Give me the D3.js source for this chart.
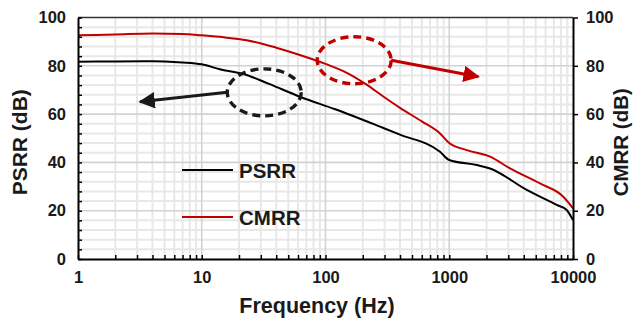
<!DOCTYPE html>
<html>
<head>
<meta charset="utf-8">
<script src="https://cdn.jsdelivr.net/npm/d3@7"></script>
<style>
  body { margin: 0; background: #fff; }
  text { font-family: "Liberation Sans", Arial, sans-serif; font-weight: bold; fill: #1a1a1a; }
</style>
</head>
<body>
<svg id="chart" width="633" height="322"></svg>
<script>
// frequencies (Hz) and values (dB)
const psrrFreq = [1, 2, 4, 5, 7, 10, 14, 21.7, 35, 62, 120, 276, 400, 842, 1000, 1667, 2135, 4226, 7386, 8890, 10000];
const psrrVals = [81.7, 81.8, 81.9, 81.8, 81.4, 80.6, 78.6, 76.6, 72.5, 67.2, 62, 54.8, 51.5, 44.4, 41, 38.9, 37.5, 28.6, 22.4, 20.3, 16.1];

const cmrrFreq = [1, 2, 4, 7, 10, 15, 23, 40, 62, 100, 150, 215, 293, 400, 600, 842, 1000, 1384, 2135, 3097, 5408, 8350, 10000];
const cmrrVals = [92.6, 93.0, 93.4, 93.2, 92.6, 91.8, 90.6, 87.5, 84.5, 80.8, 77, 72.2, 67.3, 62.6, 57, 52, 48, 45.1, 42.4, 37.5, 31.3, 25.8, 21.0];

const xTicks = [1, 10, 100, 1000, 10000];
const yTicks = [0, 20, 40, 60, 80, 100];

const series = [
  { name: "PSRR", color: "#000000", f: psrrFreq, v: psrrVals },
  { name: "CMRR", color: "#c00000", f: cmrrFreq, v: cmrrVals }
];

const margin = { top: 17.5, right: 60, bottom: 63, left: 78 };
const W = 633, H = 322;
const svg = d3.select("#chart");

const x = d3.scaleLog().domain([1, 10000]).range([margin.left, W - margin.right]);
const y = d3.scaleLinear().domain([0, 100]).range([H - margin.bottom, margin.top]);

// minor grid
const minorX = [];
for (let d = 1; d < 10000; d *= 10) for (let k = 2; k <= 9; k++) minorX.push(d * k);
const minorY = d3.range(0, 101, 4).filter(v => v % 20 !== 0);

const grid = svg.append("g");
grid.selectAll(".mx").data(minorX).join("line")
  .attr("x1", x).attr("x2", x).attr("y1", y(0)).attr("y2", y(100))
  .attr("stroke", "#e8e8e8").attr("stroke-width", 2);
grid.selectAll(".my").data(minorY).join("line")
  .attr("x1", x(1)).attr("x2", x(10000)).attr("y1", y).attr("y2", y)
  .attr("stroke", "#e8e8e8").attr("stroke-width", 2);
grid.selectAll(".Mx").data(xTicks.slice(1, -1)).join("line")
  .attr("x1", x).attr("x2", x).attr("y1", y(0)).attr("y2", y(100))
  .attr("stroke", "#d2d2d2").attr("stroke-width", 1.6);
grid.selectAll(".My").data(yTicks.slice(1, -1)).join("line")
  .attr("x1", x(1)).attr("x2", x(10000)).attr("y1", y).attr("y2", y)
  .attr("stroke", "#d2d2d2").attr("stroke-width", 1.6);

// top border
svg.append("line")
  .attr("x1", x(1)).attr("x2", x(10000)).attr("y1", y(100)).attr("y2", y(100))
  .attr("stroke", "#333").attr("stroke-width", 1.5);

// curves
const line = d3.line().curve(d3.curveMonotoneX);
series.forEach(s => {
  svg.append("path")
    .attr("d", line(s.f.map((f, i) => [x(f), y(s.v[i])])))
    .attr("fill", "none").attr("stroke", s.color).attr("stroke-width", 2);
});

// axes
const styleAxis = g => {
  g.select(".domain").attr("stroke", "#000").attr("stroke-width", 2);
  g.selectAll(".tick line").attr("stroke", "#000").attr("stroke-width", 1.5);
  g.selectAll(".tick text").style("font-size", "16.5px").attr("fill", "#1a1a1a");
};

const xAll = xTicks.concat(minorX).sort((a, b) => a - b);
svg.append("g")
  .attr("transform", `translate(0,${y(0)})`)
  .call(d3.axisBottom(x).tickValues(xAll).tickSizeInner(-4).tickSizeOuter(0)
    .tickPadding(12).tickFormat(d => xTicks.includes(d) ? d : ""))
  .call(styleAxis);

svg.append("g")
  .attr("transform", `translate(${x(1)},0)`)
  .call(d3.axisLeft(y).tickValues(yTicks.concat(minorY)).tickSizeInner(-4).tickSizeOuter(0)
    .tickPadding(12).tickFormat(d => yTicks.includes(d) ? d : ""))
  .call(styleAxis);

svg.append("g")
  .attr("transform", `translate(${x(10000)},0)`)
  .call(d3.axisRight(y).tickValues(yTicks).tickSizeInner(5).tickSizeOuter(0).tickPadding(8))
  .call(styleAxis);

// titles
svg.append("text").attr("x", 317).attr("y", 313).attr("text-anchor", "middle")
  .style("font-size", "21.5px").text("Frequency (Hz)");
svg.append("text").attr("transform", `translate(27,${(y(0) + y(100)) / 2 + 4}) rotate(-90)`)
  .attr("text-anchor", "middle").style("font-size", "21px").text("PSRR (dB)");
svg.append("text").attr("transform", `translate(628,${(y(0) + y(100)) / 2 + 4}) rotate(-90)`)
  .attr("text-anchor", "middle").style("font-size", "20.5px").text("CMRR (dB)");

// legend
const legend = svg.append("g");
series.forEach((s, i) => {
  const ly = 170 + i * 47;
  legend.append("line").attr("x1", 182).attr("x2", 233).attr("y1", ly).attr("y2", ly)
    .attr("stroke", s.color).attr("stroke-width", 2);
  legend.append("text").attr("x", 239).attr("y", ly + 7.5).style("font-size", "20.5px").text(s.name);
});

// annotations: ellipses + arrows pointing to the axis each curve belongs to
const notes = [
  { color: "#1a1a1a", cx: 32, cy: 69, side: -1, tipF: 3.17, tipV: 65.1 },
  { color: "#c00000", cx: 170.6, cy: 82.3, side: 1, tipF: 1718, tipV: 75.5 }
];
const defs = svg.append("defs");
notes.forEach((n, i) => {
  defs.append("marker").attr("id", "arr" + i)
    .attr("viewBox", "0 0 10 10").attr("refX", 9).attr("refY", 5)
    .attr("markerWidth", 5.5).attr("markerHeight", 5.5).attr("markerUnits", "strokeWidth")
    .attr("orient", "auto")
    .append("path").attr("d", "M0,0 L10,5 L0,10 Z").attr("fill", n.color);
  const cx = x(n.cx), cy = y(n.cy), rx = 37, ry = 23.5;
  svg.append("ellipse").attr("cx", cx).attr("cy", cy).attr("rx", rx).attr("ry", ry)
    .attr("fill", "none").attr("stroke", n.color).attr("stroke-width", 3.4)
    .attr("stroke-dasharray", "8,5");
  svg.append("line")
    .attr("x1", cx + n.side * rx).attr("y1", cy)
    .attr("x2", x(n.tipF)).attr("y2", y(n.tipV))
    .attr("stroke", n.color).attr("stroke-width", 3)
    .attr("marker-end", `url(#arr${i})`);
});
</script>
</body>
</html>
